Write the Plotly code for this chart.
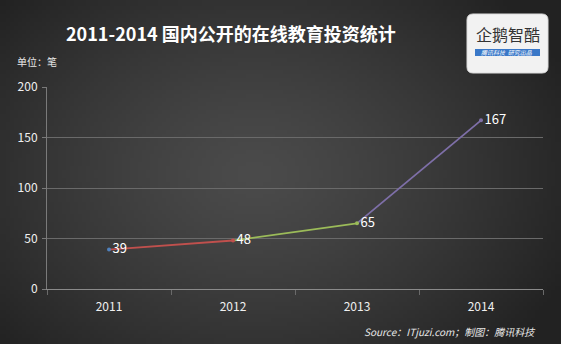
import base64, struct, zlib
import numpy as np
import plotly.graph_objects as go

# ---- data ----
years = ["2011", "2012", "2013", "2014"]
deals = [39, 48, 65, 167]
segment_colors = ["#c0504d", "#9bbb59", "#7e6fa8"]
marker_colors = ["#4f81bd", "#c0504d", "#9bbb59", "#7e6fa8"]
y_ticks = [0, 50, 100, 150, 200]

title_text = "2011-2014 国内公开的在线教育投资统计"
unit_text = "单位：笔"
source_text = "Source：ITjuzi.com；制图：腾讯科技"

W, H = 561, 344
ML, MR, MT, MB = 47, 18, 87, 55
PW, PH = W - ML - MR, H - MT - MB


def px(x):
    return (x - ML) / PW


def py(y):
    return 1 - (y - MT) / PH


# ---- background radial gradient as PNG ----
def make_png(arr):
    h, w, _ = arr.shape
    raw = b"".join(b"\x00" + arr[i].tobytes() for i in range(h))

    def chunk(t, d):
        c = struct.pack(">I", len(d)) + t + d
        return c + struct.pack(">I", zlib.crc32(t + d) & 0xffffffff)

    png = b"\x89PNG\r\n\x1a\n"
    png += chunk(b"IHDR", struct.pack(">IIBBBBB", w, h, 8, 2, 0, 0, 0))
    png += chunk(b"IDAT", zlib.compress(raw, 9))
    png += chunk(b"IEND", b"")
    return "data:image/png;base64," + base64.b64encode(png).decode()


gw, gh = 140, 86
yy, xx = np.mgrid[0:gh, 0:gw]
cx, cy = gw * 0.45, gh * 0.5
d = np.sqrt(((xx - cx) / (gw * 0.62)) ** 2 + ((yy - cy) / (gh * 0.75)) ** 2)
d = np.clip(d, 0, 1)
v = 0x4b - (0x4b - 0x22) * d ** 1.3
img = np.stack([v, v, v], axis=-1).astype(np.uint8)
bg_src = make_png(img)

fig = go.Figure()

# line segments
for i in range(len(years) - 1):
    fig.add_trace(go.Scatter(
        x=years[i:i + 2], y=deals[i:i + 2], mode="lines",
        line=dict(color=segment_colors[i], width=1.8),
        hoverinfo="skip", showlegend=False))

# markers + labels
fig.add_trace(go.Scatter(
    x=years, y=deals, mode="markers+text",
    marker=dict(color=marker_colors, size=4),
    text=[str(v) for v in deals], textposition="middle right",
    textfont=dict(color="#ffffff", size=13, family="Noto Sans CJK SC"),
    showlegend=False))

fig.update_layout(
    width=W, height=H,
    margin=dict(l=ML, r=MR, t=MT, b=MB),
    paper_bgcolor="#2e2e2e",
    plot_bgcolor="rgba(0,0,0,0)",
    font=dict(family="Noto Sans CJK SC", color="#ffffff"),
    images=[dict(source=bg_src, xref="paper", yref="paper",
                 x=px(0), y=py(0), sizex=W / PW, sizey=H / PH,
                 xanchor="left", yanchor="top", sizing="stretch",
                 layer="below")],
    xaxis=dict(type="category", range=[-0.5, 3.5], showgrid=False,
               showline=True, linecolor="#8a8a8a", linewidth=1,
               ticks="outside", tickson="boundaries", ticklen=5,
               tickcolor="#6a6a6a", ticklabelstandoff=7,
               tickfont=dict(size=12, color="#f0f0f0")),
    yaxis=dict(range=[0, 200], tickvals=y_ticks, showgrid=True,
               gridcolor="#6a6a6a", gridwidth=1, zeroline=False,
               showline=True, linecolor="#7a7a7a", ticks="outside",
               ticklen=4, tickcolor="#7a7a7a", ticklabelstandoff=2,
               tickfont=dict(size=12, color="#f0f0f0")),
)


def note(text, x, y, size, color="#ffffff", xanchor="center", family="Noto Sans CJK SC"):
    fig.add_annotation(text=text, xref="paper", yref="paper",
                       x=px(x), y=py(y), xanchor=xanchor, yanchor="middle",
                       showarrow=False,
                       font=dict(size=size, color=color, family=family))


# title
note("<b>" + title_text + "</b>", 231, 33, 18)
# unit
note(unit_text, 15, 62, 10, "#e8e8e8", "left")
# source
note("<i>" + source_text + "</i>", 538, 331, 10, "#e8e8e8", "right")

# logo box
x0, x1, y0, y1, r = 467, 548, 14, 73, 6
path = (f"M {px(x0 + r)} {py(y0)} L {px(x1 - r)} {py(y0)} "
        f"Q {px(x1)} {py(y0)} {px(x1)} {py(y0 + r)} L {px(x1)} {py(y1 - r)} "
        f"Q {px(x1)} {py(y1)} {px(x1 - r)} {py(y1)} L {px(x0 + r)} {py(y1)} "
        f"Q {px(x0)} {py(y1)} {px(x0)} {py(y1 - r)} L {px(x0)} {py(y0 + r)} "
        f"Q {px(x0)} {py(y0)} {px(x0 + r)} {py(y0)} Z")
fig.add_shape(type="path", path=path, xref="paper", yref="paper",
              fillcolor="#f2f2f2", line=dict(color="#dcdcdc", width=1))
fig.add_shape(type="rect", xref="paper", yref="paper",
              x0=px(475), x1=px(540), y0=py(49), y1=py(56),
              fillcolor="#3a78c8", line=dict(width=0))
note("企鹅智酷", 508, 33.5, 16, "#333333")
note("<i>腾讯科技  研究出品</i>", 507, 52.5, 6, "#ffffff")

fig.write_html("out.html")
